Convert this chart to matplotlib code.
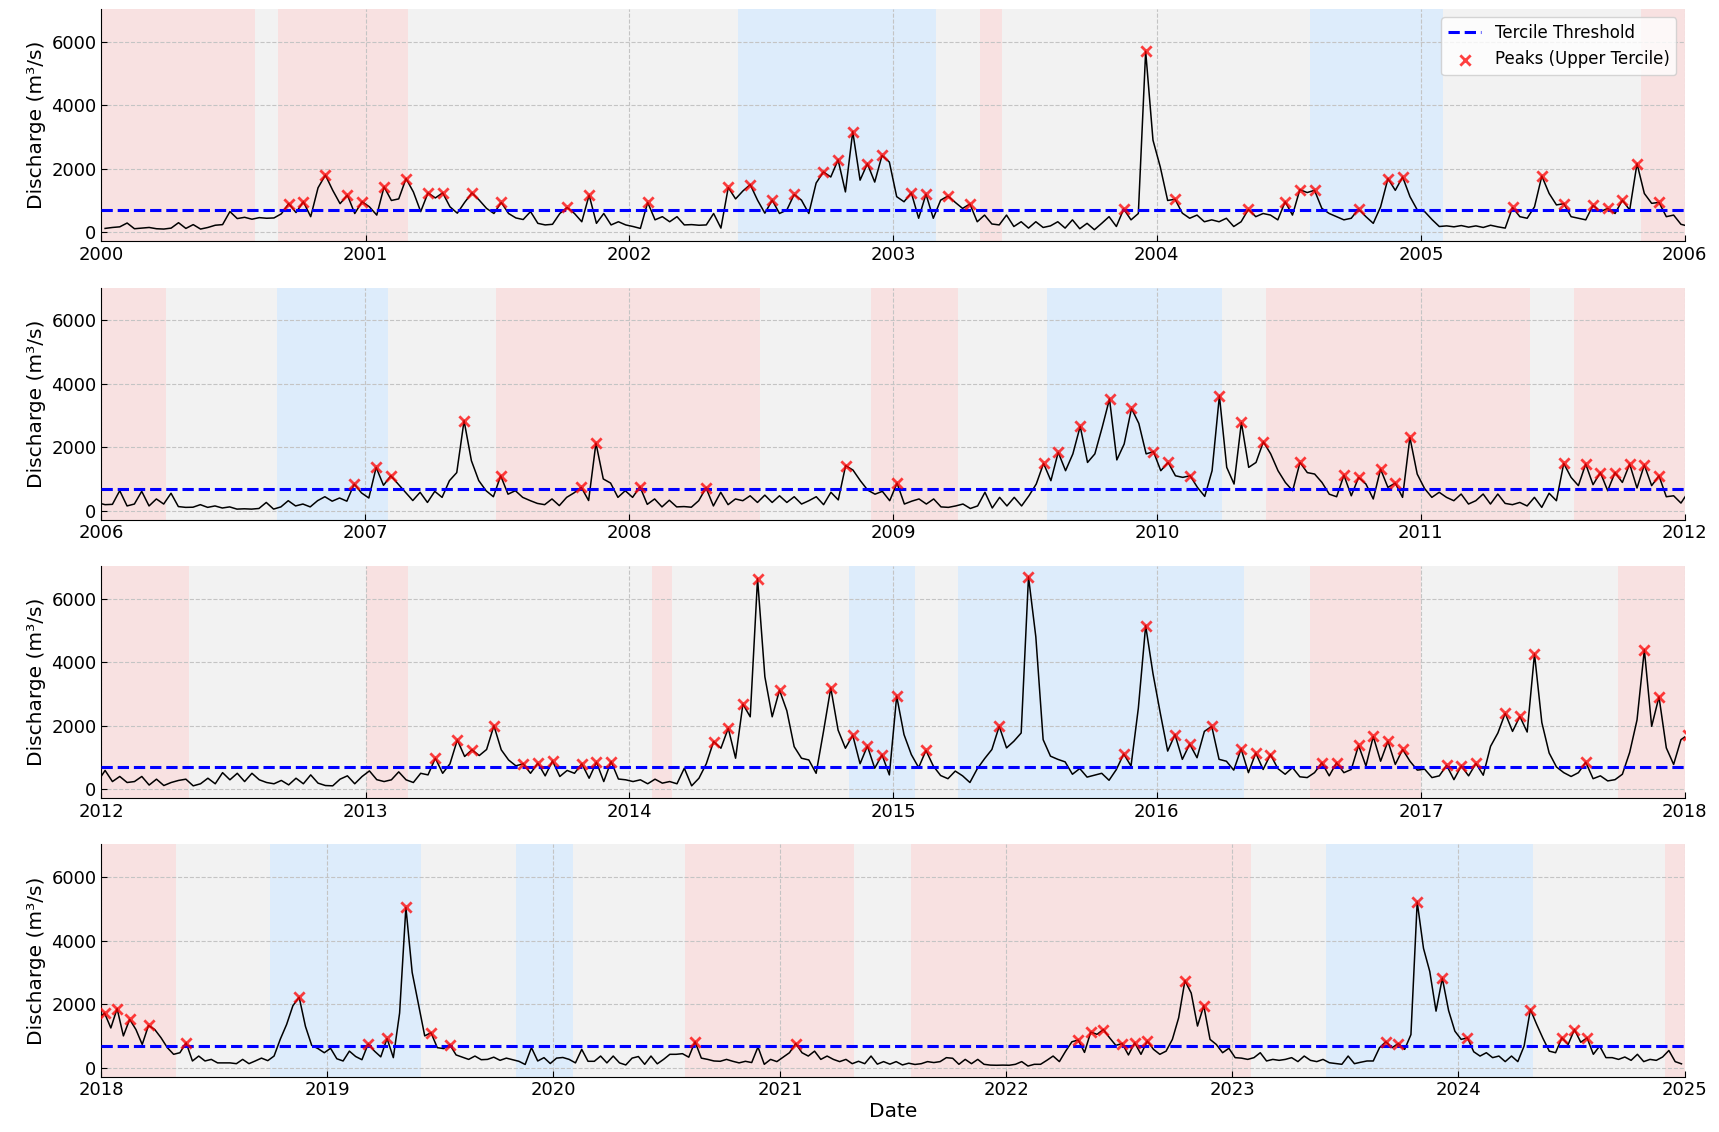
import numpy as np
import pandas as pd
import matplotlib
matplotlib.use("Agg")
import matplotlib.pyplot as plt
import matplotlib.dates as mdates

# =========================================
# Débit, par décade (36 valeurs / an)
# =========================================
q2000 = [120, 150, 170, 290, 110, 130, 150, 110, 100, 130, 300, 120, 240, 100, 150, 220, 240, 650, 430, 470,
         410, 460, 440, 450, 580, 900, 620, 960, 490, 1400, 1800, 1320, 900, 1170, 590, 960]
q2001 = [800, 540, 1430, 1000, 1050, 1690, 1270, 650, 1240, 1080, 1240, 800, 600, 940, 1240, 1010, 750, 590, 940, 590,
         450, 400, 650, 280, 230, 250, 590, 780, 590, 330, 1170, 280, 590, 230, 330, 230]
q2002 = [180, 120, 940, 390, 490, 330, 490, 230, 240, 220, 230, 590, 130, 1410, 1050, 1300, 1500, 1010, 600, 1010,
         590, 700, 1190, 1010, 590, 1550, 1900, 1740, 2280, 1270, 3170, 1640, 2160, 1580, 2420, 2210]
q2003 = [1120, 960, 1240, 440, 1200, 440, 1010, 1140, 940, 750, 890, 330, 540, 260, 230, 540, 180, 330, 130, 330,
         150, 200, 330, 130, 390, 110, 280, 80, 280, 490, 180, 730, 390, 590, 5700, 2900]
q2004 = [2050, 1000, 1040, 600, 440, 540, 330, 390, 330, 440, 180, 330, 720, 490, 590, 540, 390, 960, 540, 1340,
         1250, 1320, 750, 590, 490, 390, 440, 730, 490, 280, 800, 1690, 1320, 1740, 1120, 700]
q2005 = [650, 400, 180, 200, 170, 210, 160, 200, 150, 220, 170, 130, 780, 490, 440, 800, 1770, 1220, 860, 900,
         490, 440, 390, 850, 650, 750, 590, 1010, 700, 2160, 1220, 910, 940, 490, 540, 250]
q2006 = [190, 200, 630, 150, 210, 610, 150, 370, 210, 550, 130, 105, 110, 190, 105, 150, 85, 120, 50, 60,
         50, 70, 260, 50, 120, 315, 150, 210, 120, 315, 440, 300, 400, 300, 840, 560]
q2007 = [400, 1365, 800, 1100, 840, 580, 320, 580, 260, 610, 420, 945, 1200, 2835, 1575, 950, 630, 440, 1100, 520,
         630, 420, 320, 230, 190, 370, 160, 420, 560, 735, 320, 2130, 1000, 870, 420, 630]
q2008 = [420, 755, 200, 370, 120, 330, 120, 130, 110, 315, 720, 150, 580, 190, 370, 315, 470, 260, 490, 260,
         470, 260, 440, 210, 315, 440, 190, 580, 340, 1420, 1280, 945, 650, 520, 610, 315]
q2009 = [870, 210, 300, 370, 210, 370, 120, 105, 150, 210, 70, 150, 580, 85, 420, 150, 420, 150, 470, 840,
         1490, 945, 1840, 1260, 1790, 2660, 1520, 1790, 2625, 3520, 1600, 2100, 3220, 2750, 1790, 1860]
q2010 = [1260, 1520, 1100, 1050, 1100, 735, 450, 1260, 3620, 1365, 840, 2780, 1365, 1520, 2170, 1790, 1260, 890, 630, 1520,
         1200, 1155, 890, 520, 440, 1120, 470, 1050, 840, 370, 1310, 735, 870, 420, 2310, 1155]
q2011 = [700, 420, 580, 420, 315, 525, 210, 315, 525, 210, 525, 230, 190, 260, 150, 420, 105, 550, 315, 1490,
         1050, 790, 1470, 820, 1200, 630, 1200, 890, 1470, 715, 1440, 790, 1100, 440, 470, 240]
q2012 = [590, 240, 400, 210, 240, 400, 130, 315, 115, 210, 275, 315, 105, 170, 345, 170, 520, 295, 500, 240,
         500, 295, 210, 170, 275, 135, 345, 170, 450, 190, 115, 105, 315, 420, 170, 400]
q2013 = [575, 300, 240, 295, 545, 295, 210, 500, 450, 975, 500, 800, 1550, 1030, 1240, 1060, 1250, 2000, 1240, 920,
         735, 800, 500, 820, 420, 890, 400, 590, 500, 800, 345, 850, 240, 870, 320, 295]
q2014 = [240, 295, 170, 315, 190, 240, 170, 660, 105, 345, 800, 1500, 1290, 1920, 975, 2680, 2280, 6630, 3540, 2280,
         3120, 2470, 1340, 975, 920, 500, 1810, 3190, 1860, 1290, 1700, 800, 1360, 660, 1080, 450]
q2015 = [2930, 1720, 1090, 680, 1220, 730, 430, 330, 570, 420, 210, 640, 960, 1250, 1980, 1300, 1510, 1770, 6690, 4800,
         1560, 1040, 940, 860, 470, 650, 380, 440, 500, 280, 620, 1110, 730, 2550, 5150, 3640]
q2016 = [2390, 1200, 1720, 940, 1420, 990, 1820, 1980, 940, 880, 600, 1270, 520, 1140, 620, 1090, 650, 470, 680, 390,
         365, 520, 830, 420, 830, 520, 620, 1380, 730, 1660, 880, 1510, 780, 1250, 880, 600]
q2017 = [630, 365, 420, 750, 300, 730, 420, 810, 440, 1350, 1770, 2390, 1820, 2290, 1800, 4260, 2100, 1140, 700, 520,
         400, 520, 850, 330, 420, 260, 300, 470, 1160, 2180, 4390, 1980, 2910, 1300, 780, 1560]
q2018 = [1720, 1250, 1860, 1000, 1520, 1200, 730, 1330, 1200, 940, 630, 420, 470, 780, 210, 365, 210, 260, 150, 150,
         150, 125, 260, 125, 210, 300, 220, 365, 900, 1360, 1950, 2220, 1300, 700, 600, 470]
q2019 = [610, 280, 210, 520, 350, 250, 750, 520, 340, 920, 315, 1720, 5050, 3000, 2000, 1000, 1100, 630, 600, 720,
         400, 330, 260, 365, 250, 260, 330, 230, 300, 250, 200, 100, 630, 210, 315, 130]
q2020 = [300, 320, 260, 150, 575, 200, 200, 365, 150, 365, 150, 85, 300, 350, 105, 365, 120, 260, 420, 420,
         440, 330, 815, 300, 260, 210, 200, 260, 200, 150, 200, 160, 650, 105, 260, 190]
q2021 = [330, 470, 760, 470, 365, 520, 260, 365, 260, 190, 260, 125, 200, 125, 365, 110, 190, 110, 190, 85,
         140, 100, 125, 190, 160, 190, 315, 295, 105, 260, 125, 260, 105, 80, 75, 80]
q2022 = [75, 105, 190, 50, 105, 105, 230, 365, 190, 520, 815, 870, 480, 1120, 1050, 1200, 940, 700, 760, 400,
         780, 420, 840, 575, 420, 520, 890, 1570, 2740, 2350, 1310, 1950, 890, 730, 470, 610]
q2023 = [315, 300, 260, 315, 470, 210, 260, 230, 260, 315, 190, 365, 230, 190, 260, 155, 130, 105, 365, 125,
         170, 210, 210, 630, 815, 630, 760, 575, 1040, 5220, 3760, 3030, 1780, 2820, 1800, 1150]
q2024 = [890, 940, 500, 365, 470, 315, 365, 190, 365, 190, 680, 1830, 1360, 920, 520, 470, 940, 730, 1200, 800,
         940, 420, 680, 315, 315, 260, 335, 230, 420, 190, 260, 230, 335, 540, 190, 120]

annees = list(range(2000, 2025))
series_annuelles = [q2000, q2001, q2002, q2003, q2004, q2005, q2006, q2007, q2008, q2009, q2010, q2011, q2012,
                    q2013, q2014, q2015, q2016, q2017, q2018, q2019, q2020, q2021, q2022, q2023, q2024]

seuil_tercile = 690  # m3/s

# Phases (rouge / bleu), le reste est neutre
phase_debut = ['2000-01-01', '2000-09-01', '2002-06-01', '2003-05-01', '2004-08-01', '2005-11-01',
               '2006-09-01', '2007-07-01', '2008-12-01', '2009-08-01', '2010-06-01', '2011-08-01',
               '2013-01-01', '2014-02-01', '2014-11-01', '2015-04-01', '2016-08-01', '2017-10-01',
               '2018-10-01', '2019-11-01', '2020-08-01', '2021-08-01', '2023-06-01', '2024-12-01']
phase_fin = ['2000-08-01', '2001-03-01', '2003-03-01', '2003-06-01', '2005-02-01', '2006-04-01',
             '2007-02-01', '2008-07-01', '2009-04-01', '2010-04-01', '2011-06-01', '2012-05-01',
             '2013-03-01', '2014-03-01', '2015-02-01', '2016-05-01', '2017-01-01', '2018-05-01',
             '2019-06-01', '2020-02-01', '2021-05-01', '2023-02-01', '2024-05-01', '2025-01-01']
phase_type = ['chaud', 'chaud', 'froid', 'chaud', 'froid', 'chaud',
              'froid', 'chaud', 'chaud', 'froid', 'chaud', 'chaud',
              'chaud', 'chaud', 'froid', 'froid', 'chaud', 'chaud',
              'froid', 'froid', 'chaud', 'chaud', 'froid', 'chaud']

periodes = [(2000, 2006), (2006, 2012), (2012, 2018), (2018, 2025)]

couleurs = {'chaud': '#f8e1e1', 'froid': '#ddecfb'}
fond_neutre = '#f2f2f2'


# ======================
# Série temporelle
# ======================
dates = []
debit = []
for an, valeurs in zip(annees, series_annuelles):
    debut = pd.Timestamp(an, 1, 1)
    nb_jours = (pd.Timestamp(an + 1, 1, 1) - debut).days
    n = len(valeurs)
    for k, v in enumerate(valeurs):
        dates.append(debut + pd.Timedelta(days=(k + 0.5) * nb_jours / n))
        debit.append(v)

dates = pd.DatetimeIndex(dates)
debit = np.array(debit, dtype=float)

# Pics : maxima locaux au-dessus du seuil
pic = np.zeros_like(debit, dtype=bool)
pic[1:-1] = (debit[1:-1] > debit[:-2]) & (debit[1:-1] >= debit[2:]) & (debit[1:-1] > seuil_tercile)


# ======================
# Figure
# ======================
fig, axes = plt.subplots(4, 1, figsize=(17.19, 11.32), dpi=100)
fig.subplots_adjust(left=0.059, right=0.980, top=0.992, bottom=0.049, hspace=0.2)

for i, (ax, (a, b)) in enumerate(zip(axes, periodes)):
    ax.set_facecolor(fond_neutre)

    for d0, d1, t in zip(phase_debut, phase_fin, phase_type):
        ax.axvspan(pd.Timestamp(d0), pd.Timestamp(d1), color=couleurs[t], lw=0, zorder=0)

    ax.plot(dates, debit, color='black', lw=1.1, zorder=2)
    ax.axhline(seuil_tercile, color='blue', ls='--', lw=2.2, label='Tercile Threshold', zorder=3)
    ax.scatter(dates[pic], debit[pic], marker='x', color='red', alpha=0.75, s=55, lw=2,
               label='Peaks (Upper Tercile)', zorder=4)

    ax.set_xlim(pd.Timestamp(a, 1, 1), pd.Timestamp(b, 1, 1))
    ax.set_ylim(-280, 7030)
    ax.set_yticks([0, 2000, 4000, 6000])
    ax.xaxis.set_major_locator(mdates.YearLocator())
    ax.xaxis.set_major_formatter(mdates.DateFormatter('%Y'))

    ax.grid(True, linestyle='--', color='#c4c4c4', linewidth=0.8)
    ax.tick_params(direction='in', labelsize=13, length=4)
    ax.spines['top'].set_visible(False)
    ax.spines['right'].set_visible(False)
    ax.set_ylabel('Discharge (m³/s)', fontsize=14.5)

    if i == 0:
        ax.legend(loc='upper right', fontsize=12)

axes[-1].set_xlabel('Date', fontsize=14.5, labelpad=2)

plt.savefig('out.png', dpi=100)
